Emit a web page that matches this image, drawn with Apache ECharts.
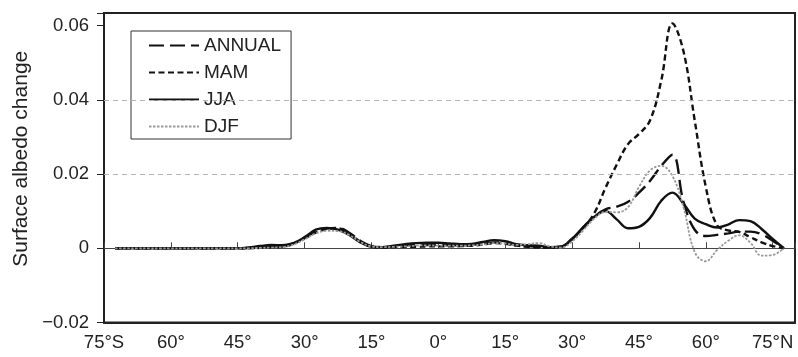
<!DOCTYPE html>
<html>
<head>
<meta charset="utf-8">
<script src="https://cdn.jsdelivr.net/npm/echarts@6/dist/echarts.min.js"></script>
<style>html,body{margin:0;padding:0;background:#fff;}#c{width:798px;height:357px;}</style>
</head>
<body>
<div id="c"></div>
<script>
const lats = [-72.5,-70,-67.5,-65,-62.5,-60,-57.5,-55,-52.5,-50,-47.5,-45,-42.5,-40,-37.5,-35,-32.5,-30,-27.5,-25,-22.5,-20,-17.5,-15,-12.5,-10,-7.5,-5,-2.5,0,2.5,5,7.5,10,12.5,15,17.5,20,22.5,25,27.5,30,32.5,35,37.5,40,42.5,45,47.5,50,52.5,55,57.5,60,62.5,65,67.5,70,72.5,75,77.5];

const annual = [0,0,0,0,0,0,0,0,0,0,0,0,
  0.0001,0.0003,0.0004,0.0006,0.0013,0.0028,0.0045,0.0053,0.0055,0.0042,0.0020,0.0006,0.0003,0.0005,0.0008,0.0009,0.0009,0.0009,0.0008,0.0008,0.0009,0.0012,0.0016,0.0014,0.0009,0.0006,0.0004,0.0002,0.0005,
  0.0025,0.0055,0.0085,0.0105,0.0112,0.0125,0.0150,0.0182,0.0222,0.0252,0.0125,0.0050,0.0033,0.0036,0.0040,0.0045,0.0045,0.0038,0.0020,0];

const mam = [0,0,0,0,0,0,0,0,0,0,0,0,
  0,0.0001,0.0002,0.0004,0.0012,0.0027,0.0042,0.0052,0.0054,0.0040,0.0018,0.0004,0.0002,0.0003,0.0004,0.0004,0.0005,0.0005,0.0005,0.0006,0.0007,0.0010,0.0014,0.0012,0.0007,0.0004,0.0002,0.0001,0.0004,
  0.0025,0.0055,0.0095,0.0163,0.0225,0.0280,0.0308,0.0345,0.0452,0.0606,0.0530,0.0345,0.0165,0.0062,0.0048,0.0044,0.0030,0.0016,0.0006,0];

const jja = [0,0,0,0,0,0,0,0,0,0,0,0,
  0.0002,0.0006,0.0009,0.0008,0.0014,0.0030,0.0050,0.0055,0.0050,0.0036,0.0016,0.0004,0.0003,0.0007,0.0011,0.0014,0.0015,0.0015,0.0013,0.0011,0.0012,0.0017,0.0022,0.0019,0.0011,0.0008,0.0007,0.0003,0.0004,
  0.0025,0.0057,0.0085,0.0100,0.0078,0.0054,0.0058,0.0082,0.0128,0.0150,0.0120,0.0080,0.0065,0.0056,0.0064,0.0076,0.0073,0.0052,0.0025,0];

const djf = [0,0,0,0,0,0,0,0,0,0,0,0,
  0,0.0001,0.0002,0.0003,0.0010,0.0024,0.0040,0.0047,0.0046,0.0036,0.0017,0.0005,0.0003,0.0004,0.0005,0.0007,0.0008,0.0007,0.0007,0.0007,0.0008,0.0010,0.0014,0.0013,0.0009,0.0011,0.0014,0.0005,0.0002,
  0.0018,0.0048,0.0080,0.0098,0.0097,0.0110,0.0165,0.0210,0.0222,0.0195,0.0110,-0.0010,-0.0035,-0.0005,0.0020,0.0035,0.0015,-0.0020,-0.0018,0];

const seriesNames = ['ANNUAL','MAM','JJA','DJF'];
const gridValues = [0.02, 0.04];

const pair = arr => lats.map((x, i) => [x, arr[i]]);
const FONT = 'Liberation Sans, Arial, Helvetica, sans-serif';

const chart = echarts.init(document.getElementById('c'), null, {renderer: 'canvas'});
chart.setOption({
  animation: false,
  backgroundColor: '#fff',
  grid: {left: 104, right: 2, top: 13, bottom: 34.5, show: true, borderColor: '#222', borderWidth: 2, backgroundColor: 'transparent'},
  legend: {
    orient: 'vertical', left: 131, top: 31,
    data: seriesNames,
    itemWidth: 50, itemHeight: 14, itemGap: 8,
    padding: [5, 10, 3, 17],
    borderColor: '#333', borderWidth: 1, backgroundColor: '#fff',
    itemStyle: {opacity: 0},
    textStyle: {fontFamily: FONT, fontSize: 19, color: '#222', lineHeight: 19}
  },
  xAxis: [{
    type: 'value', min: -75, max: 80, interval: 15,
    position: 'bottom',
    axisLine: {show: true, onZero: false, lineStyle: {color: '#222', width: 2}},
    axisTick: {show: false},
    splitLine: {show: false},
    axisLabel: {
      fontFamily: FONT, fontSize: 18.5, color: '#222', margin: 11,
      formatter: v => {
        if (v === -75) return '75°S';
        if (v === 75) return '75°N';
        if (v > 76) return '';
        return Math.abs(v) + '°';
      }
    }
  }, {
    type: 'value', min: -75, max: 80, interval: 15,
    position: 'bottom',
    axisLine: {show: true, onZero: true, lineStyle: {color: '#444', width: 1}},
    axisTick: {show: true, inside: true, length: 6, lineStyle: {color: '#444', width: 1}},
    axisLabel: {show: false},
    splitLine: {show: false}
  }],
  yAxis: {
    type: 'value', min: -0.02, max: 0.0634, interval: 0.02,
    name: 'Surface albedo change', nameLocation: 'middle', nameGap: 72,
    nameTextStyle: {fontFamily: FONT, fontSize: 21, color: '#222', padding: [0, 0, 0, 18]},
    axisLine: {show: true, onZero: false, lineStyle: {color: '#222', width: 2}},
    axisTick: {show: true, length: 7, lineStyle: {color: '#222', width: 1}},
    splitLine: {show: false},
    axisLabel: {
      fontFamily: FONT, fontSize: 18.5, color: '#222', margin: 15,
      formatter: v => {
        const r = Math.round(v * 100) / 100;
        if (Math.abs(v - r) > 1e-6) return '';
        if (r === 0) return '0';
        return r.toFixed(2).replace('-', '\u2212');
      }
    }
  },
  series: [
    {
      name: 'ANNUAL', type: 'line', data: pair(annual), smooth: 0.4, symbol: 'none',
      lineStyle: {color: '#111', width: 2.4, type: [15, 6]},
      itemStyle: {color: '#111'},
      markLine: {
        silent: true, symbol: 'none', label: {show: false},
        lineStyle: {color: '#b5b5b5', width: 1, type: [5, 4]},
        data: gridValues.map(v => ({yAxis: v}))
      }
    },
    {
      name: 'MAM', type: 'line', data: pair(mam), smooth: 0.4, symbol: 'none',
      lineStyle: {color: '#111', width: 2.4, type: [6, 3.5]},
      itemStyle: {color: '#111'}
    },
    {
      name: 'JJA', type: 'line', data: pair(jja), smooth: 0.4, symbol: 'none',
      lineStyle: {color: '#111', width: 2.4, type: 'solid'},
      itemStyle: {color: '#111'}
    },
    {
      name: 'DJF', type: 'line', data: pair(djf), smooth: 0.4, symbol: 'none',
      lineStyle: {color: '#999', width: 1.8, type: [2.5, 1.5]},
      itemStyle: {color: '#999'}
    }
  ]
});
</script>
</body>
</html>
